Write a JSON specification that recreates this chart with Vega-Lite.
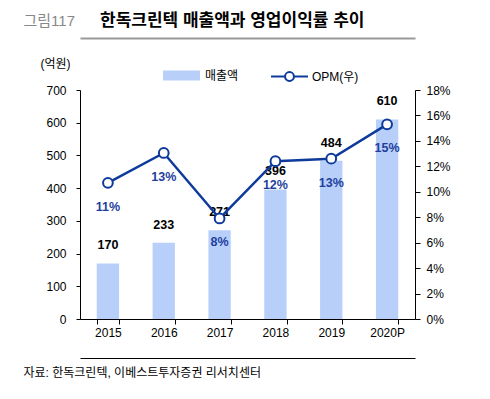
{
  "$schema": "https://vega.github.io/schema/vega-lite/v6.json",
  "width": 335,
  "height": 229,
  "autosize": {"type": "none"},
  "padding": {"left": 80, "top": 90, "right": 75, "bottom": 80},
  "background": "white",
  "title": {
    "text": "한독크린텍 매출액과 영업이익률 추이",
    "anchor": "start",
    "frame": "group",
    "dx": 20,
    "dy": 17,
    "offset": 0,
    "color": "black",
    "fontSize": 17,
    "fontWeight": "bold"
  },
  "data": {
    "values": [
      {"year": "2015", "revenue": 170, "opm": 0.107},
      {"year": "2016", "revenue": 233, "opm": 0.1305},
      {"year": "2017", "revenue": 271, "opm": 0.079},
      {"year": "2018", "revenue": 396, "opm": 0.124},
      {"year": "2019", "revenue": 484, "opm": 0.126},
      {"year": "2020P", "revenue": 610, "opm": 0.153}
    ]
  },
  "layer": [
    {
      "encoding": {
        "y": {
          "field": "revenue",
          "type": "quantitative",
          "scale": {"domain": [0, 700], "nice": false},
          "axis": {
            "orient": "left",
            "values": [0, 100, 200, 300, 400, 500, 600, 700],
            "tickSize": 4,
            "labelPadding": 10,
            "title": "(억원)",
            "titleAngle": 0,
            "titleX": -25,
            "titleY": -27,
            "titleAlign": "center",
            "titleBaseline": "middle",
            "titleFontWeight": "normal",
            "titleFontSize": 12
          }
        }
      },
      "layer": [
        {
          "mark": {"type": "bar"},
          "encoding": {
            "x": {
              "field": "year",
              "type": "nominal",
              "scale": {"paddingInner": 0.6, "paddingOuter": 0.3},
              "axis": {
                "orient": "bottom",
                "labelAngle": 0,
                "tickBand": "extent",
                "tickSize": 5,
                "labelPadding": 3,
                "title": null
              }
            },
            "fill": {
              "datum": "매출액",
              "type": "nominal",
              "scale": {"range": ["#b8cffa"]},
              "legend": {
                "orient": "none",
                "legendX": 83,
                "legendY": -33,
                "title": null,
                "symbolType": "M-1,-0.27H1V0.27H-1Z",
                "symbolSize": 1369,
                "symbolStrokeWidth": 0,
                "labelOffset": 5,
                "labelFontSize": 12
              }
            }
          }
        },
        {
          "mark": {"type": "text", "fontWeight": "bold", "fontSize": 12.5, "baseline": "middle", "dy": -18, "color": "black"},
          "encoding": {
            "x": {
              "field": "year",
              "type": "nominal",
              "scale": {"paddingInner": 0.6, "paddingOuter": 0.3},
              "axis": {
                "orient": "bottom",
                "offset": 39,
                "labels": false,
                "ticks": false,
                "domainColor": "black",
                "title": "자료: 한독크린텍, 이베스트투자증권 리서치센터",
                "titleX": -57,
                "titleY": 14,
                "titleAlign": "left",
                "titleAnchor": "start",
                "titleBaseline": "middle",
                "titleFontWeight": "normal",
                "titleFontSize": 12
              }
            },
            "text": {"field": "revenue", "type": "quantitative"}
          }
        }
      ],
      "resolve": {"axis": {"x": "independent"}}
    },
    {
      "encoding": {
        "x": {
          "field": "year",
          "type": "nominal",
          "scale": {"paddingInner": 0.6, "paddingOuter": 0.3},
          "axis": {
            "orient": "top",
            "offset": 52,
            "labels": false,
            "ticks": false,
            "domainColor": "#999999",
            "domainWidth": 2,
            "title": "그림117",
            "titleX": -57,
            "titleY": -18,
            "titleAlign": "left",
            "titleAnchor": "start",
            "titleBaseline": "middle",
            "titleFontWeight": "normal",
            "titleFontSize": 15,
            "titleColor": "#888888"
          }
        },
        "y": {
          "field": "opm",
          "type": "quantitative",
          "scale": {"domain": [0, 0.18], "nice": false},
          "axis": {
            "orient": "right",
            "values": [0, 0.02, 0.04, 0.06, 0.08, 0.1, 0.12, 0.14, 0.16, 0.18],
            "format": ".0%",
            "tickSize": 5,
            "labelPadding": 6,
            "title": null
          }
        }
      },
      "layer": [
        {
          "mark": {"type": "line", "strokeWidth": 2.5},
          "encoding": {
            "stroke": {
              "datum": "OPM(우)",
              "type": "nominal",
              "scale": {"range": ["#0d3a9b"]},
              "legend": {
                "orient": "none",
                "legendX": 190,
                "legendY": -33,
                "title": null,
                "symbolType": "M-1,0H-0.24M0.24,0H1M0.24,0A0.24,0.24 0 1,1 -0.24,0A0.24,0.24 0 1,1 0.24,0",
                "symbolSize": 1369,
                "symbolStrokeWidth": 2,
                "symbolFillColor": "white",
                "labelOffset": 3,
                "labelFontSize": 12
              }
            }
          }
        },
        {
          "mark": {"type": "circle", "size": 95, "fill": "white", "strokeWidth": 2, "opacity": 1},
          "encoding": {
            "stroke": {"datum": "OPM(우)", "type": "nominal"}
          }
        },
        {
          "mark": {"type": "text", "fontWeight": "bold", "fontSize": 12.5, "baseline": "middle", "dy": 24, "color": "#1f3f9e"},
          "encoding": {
            "text": {"field": "opm", "type": "quantitative", "format": ".0%"}
          }
        }
      ]
    }
  ],
  "resolve": {"scale": {"y": "independent"}, "axis": {"x": "independent"}},
  "config": {
    "font": "Liberation Sans, Noto Sans CJK KR",
    "view": {"stroke": null},
    "axis": {
      "grid": false,
      "domainColor": "black",
      "tickColor": "black",
      "labelColor": "black",
      "labelFontSize": 12,
      "titleColor": "black"
    },
    "legend": {"labelColor": "black", "labelFont": "Liberation Sans, Noto Sans CJK KR"}
  }
}
